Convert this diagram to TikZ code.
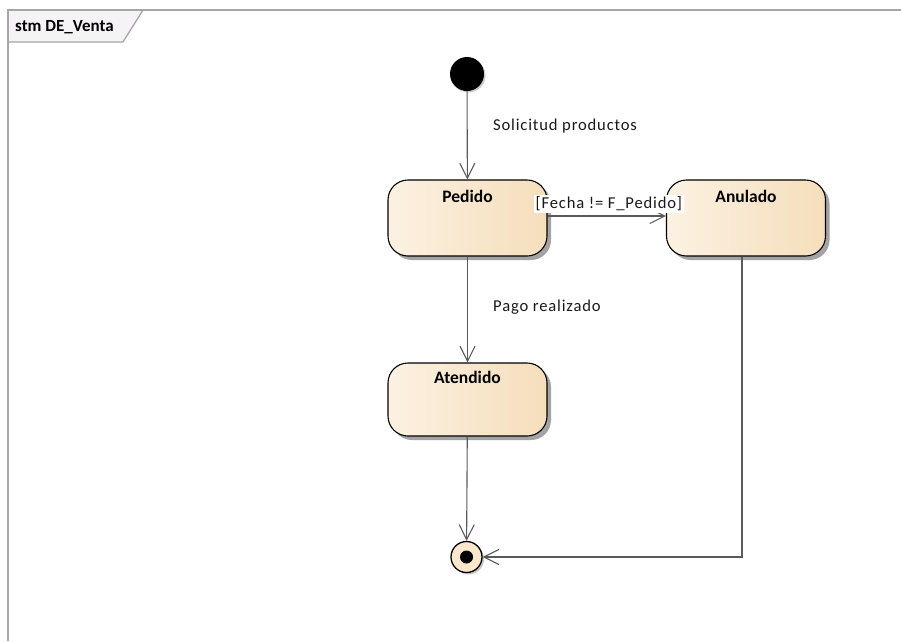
\documentclass[tikz,border=0pt]{standalone}
\usepackage{fontspec}
\setmainfont{Carlito}
\newfontfamily\labelfont[LetterSpace=5]{Carlito}
\usetikzlibrary{arrows.meta,shadows}
\definecolor{framegray}{HTML}{A6A6A6}
\definecolor{tabfill}{HTML}{F6F3F6}
\definecolor{edgegray}{HTML}{5A5A5A}
\definecolor{stateleft}{HTML}{FCF1E2}
\definecolor{stateright}{HTML}{F5DEBB}
\definecolor{finalfill}{HTML}{FBE8CC}
\tikzset{
  state/.style={draw=black, line width=1.1pt, rounded corners=20pt,
    left color=stateleft, right color=stateright,
    minimum width=159pt, minimum height=76pt, inner sep=0pt,
    drop shadow={shadow xshift=4pt, shadow yshift=-4pt, fill=black!45, opacity=0.8}},
  statetitle/.style={font=\fontsize{17.5}{20}\selectfont\bfseries},
  trans/.style={draw=edgegray, line width=1.1pt,
    -{Straight Barb[length=15pt,width=15pt,line width=1.1pt]}},
  tlabel/.style={font=\labelfont\fontsize{16.6}{19}\selectfont, anchor=west, inner sep=0pt, text=black!90},
}
\begin{document}
\begin{tikzpicture}[x=1pt,y=-1pt]
\useasboundingbox (0,0) rectangle (901,641);
% diagram frame and name tab
\draw[framegray, line width=2pt] (8,641) -- (8,10) -- (903,10);
\fill[tabfill] (9,11) -- (143,11) -- (123,42) -- (9,42) -- cycle;
\draw[framegray, line width=1.3pt] (143,10) -- (123,42) -- (8,42);
\node[anchor=west, inner sep=0pt, font=\fontsize{17}{19}\selectfont\bfseries] (title) at (15,27) {stm DE\_Venta};

% states
\node[state] (pedido) at (467.5,218) {};
\node[statetitle] (pedidolbl) at (467.5,196) {Pedido};
\node[state] (anulado) at (746,218) {};
\node[statetitle] (anuladolbl) at (746,196) {Anulado};
\node[state, minimum height=73pt] (atendido) at (467.5,399.5) {};
\node[statetitle] (atendidolbl) at (467.5,377) {Atendido};

% pseudostates
\node[circle, fill=black, minimum size=34pt, inner sep=0pt,
  drop shadow={shadow xshift=1.5pt, shadow yshift=-1.5pt, fill=black!40}] (init) at (467,74) {};
\node[circle, draw=black, line width=1.3pt, fill=finalfill, minimum size=31pt, inner sep=0pt,
  drop shadow={shadow xshift=2pt, shadow yshift=-2pt, fill=black!45}] (final) at (466.5,557) {};
\fill[black] (final.center) circle (6.5pt);

% transitions
\draw[trans] (init) -- (pedido);
\node[tlabel] (l1) at (493,126) {Solicitud productos};
\draw[trans] (pedido) -- (atendido);
\node[tlabel] (l2) at (493,307) {Pago realizado};
\draw[trans] (atendido) -- (final);
\coordinate (corner) at (742,557);
\draw[trans] (anulado.south -| corner) -- (corner) -- (final);
\draw[trans] (pedido.east |- 0,216) -- (anulado.west |- 0,216);
\node[tlabel, fill=white, inner sep=1.5pt] (g1) at (534,204) {[Fecha != F\_Pedido]};
\end{tikzpicture}
\end{document}
